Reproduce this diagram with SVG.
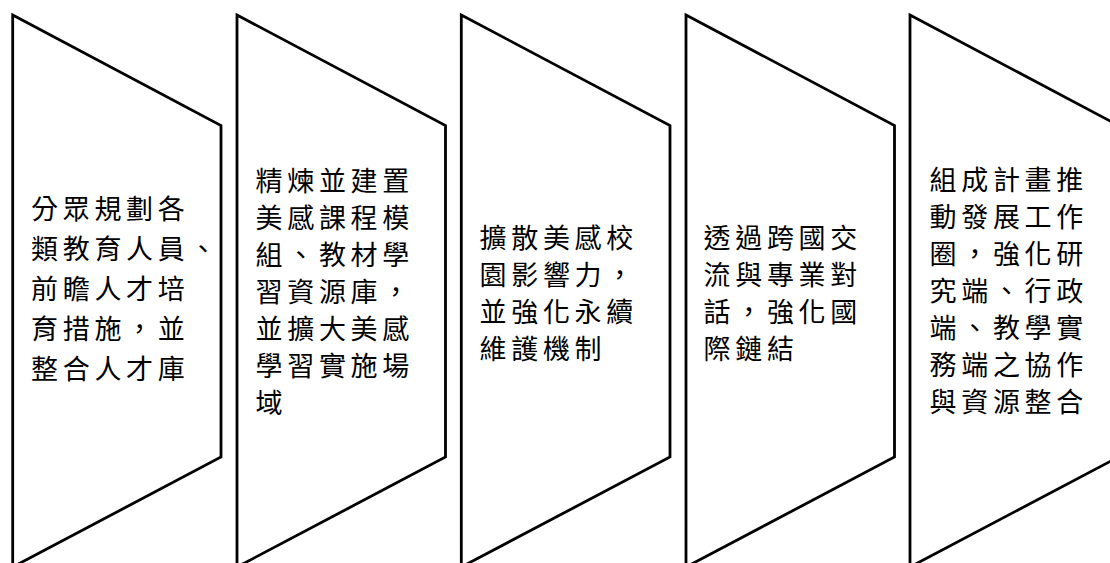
<svg xmlns="http://www.w3.org/2000/svg" width="1110" height="563" viewBox="0 0 1110 563">
<style>
.shape{fill:#ffffff;stroke:#000000;stroke-width:2.8;stroke-linejoin:miter}
.t{font-family:"Noto Sans CJK TC","Noto Sans CJK SC",sans-serif;font-size:27px;letter-spacing:4.7px;fill:#000000}
</style>
<rect width="1110" height="563" fill="#ffffff"/>
<g id="connectors"></g>
<g id="node1">
<polygon class="shape" points="12.7,15 221,125.5 221,457 12.7,567"/>
<text class="t"><tspan x="31" y="218.5">分眾規劃各</tspan><tspan x="31" y="258.5">類教育人員、</tspan><tspan x="31" y="298.5">前瞻人才培</tspan><tspan x="31" y="338.5">育措施，並</tspan><tspan x="31" y="378.5">整合人才庫</tspan></text>
</g>
<g id="node2">
<polygon class="shape" points="237,15 445.5,125.5 445.5,457 237,567"/>
<text class="t"><tspan x="255.5" y="191">精煉並建置</tspan><tspan x="255.5" y="228">美感課程模</tspan><tspan x="255.5" y="265">組、教材學</tspan><tspan x="255.5" y="302">習資源庫，</tspan><tspan x="255.5" y="339">並擴大美感</tspan><tspan x="255.5" y="376">學習實施場</tspan><tspan x="255.5" y="413">域</tspan></text>
</g>
<g id="node3">
<polygon class="shape" points="461.3,15 670,125.5 670,457 461.3,567"/>
<text class="t"><tspan x="479.5" y="247.5">擴散美感校</tspan><tspan x="479.5" y="284.5">園影響力，</tspan><tspan x="479.5" y="321.5">並強化永續</tspan><tspan x="479.5" y="358.5">維護機制</tspan></text>
</g>
<g id="node4">
<polygon class="shape" points="686,15 894.5,125.5 894.5,457 686,567"/>
<text class="t"><tspan x="703.5" y="247.5">透過跨國交</tspan><tspan x="703.5" y="284.5">流與專業對</tspan><tspan x="703.5" y="321.5">話，強化國</tspan><tspan x="703.5" y="358.5">際鏈結</tspan></text>
</g>
<g id="node5">
<polygon class="shape" points="910,15 1118.5,125.5 1118.5,457 910,567"/>
<text class="t"><tspan x="929.5" y="189.5">組成計畫推</tspan><tspan x="929.5" y="226.5">動發展工作</tspan><tspan x="929.5" y="263.5">圈，強化研</tspan><tspan x="929.5" y="300.5">究端、行政</tspan><tspan x="929.5" y="337.5">端、教學實</tspan><tspan x="929.5" y="374.5">務端之協作</tspan><tspan x="929.5" y="411.5">與資源整合</tspan></text>
</g>
</svg>
